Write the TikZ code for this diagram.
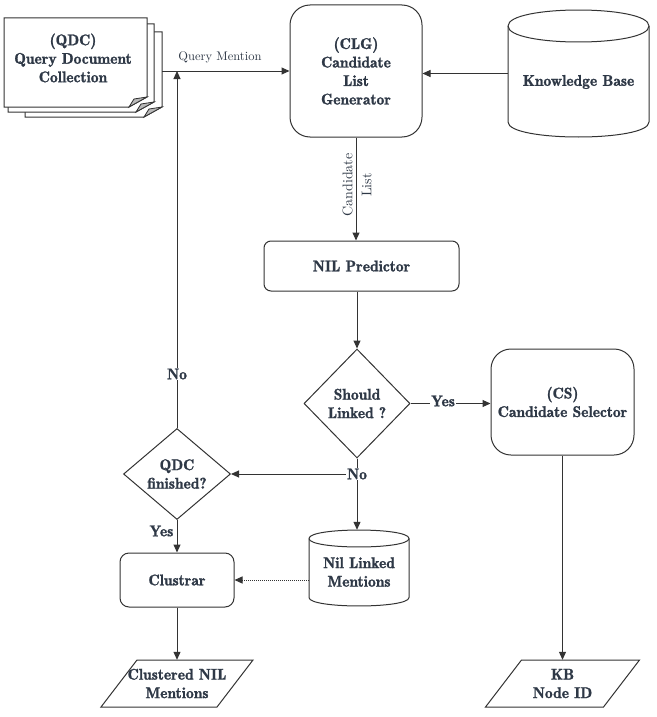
\documentclass[tikz,border=0pt]{standalone}
\usepackage{fontspec}
\setmainfont{lmroman10-regular.otf}[BoldFont=lmromandemi10-regular.otf, BoldFeatures={FakeBold=1.3}]
\usetikzlibrary{arrows.meta,shapes.geometric}
\definecolor{txtc}{HTML}{2E3846}
\definecolor{linec}{HTML}{333333}
\begin{document}
\begin{tikzpicture}[x=1pt,y=-1pt,
  lbl/.style={font=\fontsize{15.5}{18.5}\selectfont\bfseries, align=center, text=txtc},
  rbox/.style={draw=linec, line width=1pt, fill=white, lbl, inner sep=0pt},
  arr/.style={draw=linec, line width=1pt, -{Triangle[length=8pt,width=7pt]}},
  shp/.style={draw=linec, line width=1pt, fill=white},
  yn/.style={lbl, fill=white, inner sep=1pt},
  smalltxt/.style={text=txtc, align=center},
]
\useasboundingbox (0,0) rectangle (656,717);

% Query document collection (stacked pages)
\foreach \L/\T/\R/\B in {25/32/162/117, 8/24/154/112, 4/18/147/107}{
  \draw[shp] (\L,\T) -- (\R,\T) -- (\R,\B-10) -- (\R-18,\B) -- (\L,\B) -- cycle;
  \draw[draw=linec, line width=0.8pt, fill=gray!55] (\R,\B-10) -- (\R-18,\B) -- (\R-13,\B-8) -- cycle;
}
\node[lbl] (qdc) at (73,58) {(QDC)\\Query Document\\Collection};
\coordinate (qdcr) at (162,71);

% Candidate list generator
\node[rbox, rounded corners=20pt, minimum width=132, minimum height=132] (clg) at (356,71) {(CLG)\\Candidate\\List\\Generator};

% Knowledge base cylinder
\draw[shp] (508,26) -- (508,122) .. controls (508,142) and (649,142) .. (649,122) -- (649,26) .. controls (649,4.67) and (508,4.67) .. (508,26) -- cycle;
\draw[draw=linec, line width=1pt] (508,26) .. controls (508,47.33) and (649,47.33) .. (649,26);
\node[minimum width=141, minimum height=127, inner sep=0pt] (kb) at (578.5,73.5) {};
\node[lbl] at (578.5,82) {Knowledge Base};

% NIL predictor
\node[rbox, rounded corners=7pt, minimum width=195, minimum height=50] (nilp) at (361.5,266) {NIL Predictor};

% Should linked decision
\node[diamond, draw=linec, line width=1pt, fill=white, minimum width=106, minimum height=109, inner sep=0pt] (sl) at (357,403.5) {};
\node[lbl] at (357,403.5) {Should\\Linked ?};

% Candidate selector
\node[rbox, rounded corners=20pt, minimum width=143, minimum height=106] (cs) at (562.5,402) {(CS)\\Candidate Selector};

% QDC finished decision
\node[diamond, draw=linec, line width=1pt, fill=white, minimum width=107, minimum height=91, inner sep=0pt] (qf) at (177,474) {};
\node[lbl] at (177,474) {QDC\\finished?};

% Nil linked mentions cylinder
\draw[shp] (309,538.5) -- (309,597.5) .. controls (309,608.8) and (409,608.8) .. (409,597.5) -- (409,538.5) .. controls (409,527.2) and (309,527.2) .. (309,538.5) -- cycle;
\draw[draw=linec, line width=1pt] (309,538.5) .. controls (309,549.8) and (409,549.8) .. (409,538.5);
\node[minimum width=100, minimum height=76, inner sep=0pt] (nil) at (359,568) {};
\node[lbl] at (359,572) {Nil Linked\\Mentions};

% Clustrar
\node[rbox, rounded corners=9pt, minimum width=114, minimum height=54] (clu) at (177,580) {Clustrar};

% Output parallelograms
\draw[shp] (137,660) -- (253,660) -- (217,707) -- (101,707) -- cycle;
\node[lbl, minimum width=116, minimum height=47, inner sep=0pt] (cnm) at (177,683.5) {Clustered NIL\\Mentions};
\draw[shp] (521.5,660) -- (639.5,660) -- (603.5,707) -- (485.5,707) -- cycle;
\node[lbl, minimum width=118, minimum height=47, inner sep=0pt] (kbid) at (562.5,683.5) {KB\\Node ID};

% Connectors
\draw[arr] (qdcr) -- (clg.west);
\node[smalltxt, font=\fontsize{12.5}{15}\selectfont] at (220,57) {Query Mention};
\draw[arr] (kb.west) -- (kb.west -| clg.east);
\draw[arr] (clg.south) -- (clg.south |- nilp.north);
\node[smalltxt, rotate=90, font=\fontsize{14}{19}\selectfont] at (357,185) {Candidate\\List};
\draw[arr] (nilp.south -| sl.north) -- (sl.north);
\draw[arr] (sl.east) -- (sl.east -| cs.west);
\node[yn] at (443,401) {Yes};
\draw[arr] (sl.south) -- (sl.south |- nil.north);
\draw[arr] (sl.south |- qf.east) -- (qf.east);
\node[yn] at (sl.south |- qf.east) {No};
\draw[arr] (qf.north) -- (qf.north |- clg.west);
\node[yn] at (177,374) {No};
\draw[arr] (qf.south) -- (clu.north);
\node[lbl, anchor=east, inner sep=0pt] at (173.5,531) {Yes};
\draw[arr, dash pattern=on 1pt off 1pt] (nil.west |- clu.east) -- (clu.east);
\draw[arr] (clu.south) -- (cnm.north);
\draw[arr] (cs.south) -- (kbid.north);
\end{tikzpicture}
\end{document}
